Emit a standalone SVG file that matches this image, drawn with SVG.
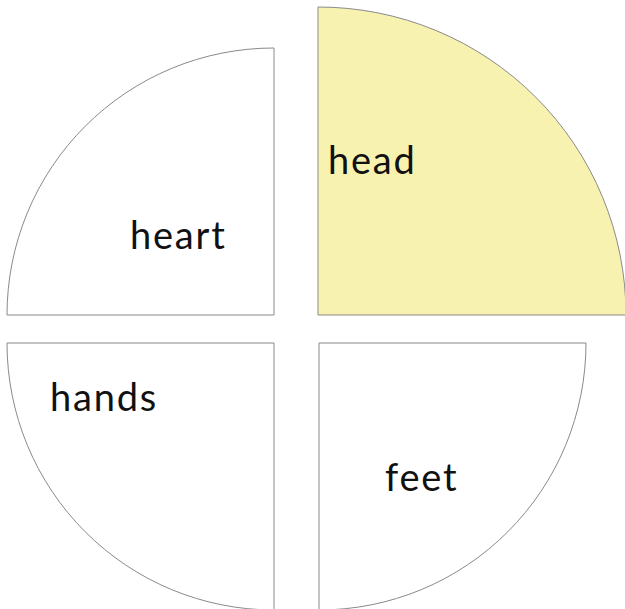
<svg xmlns="http://www.w3.org/2000/svg" width="625" height="609" viewBox="0 0 625 609">
<style>
.q{fill:#ffffff;stroke:#8a8a8a;stroke-width:1}
.hl{fill:#f8f2b0}
text{font-family:Lato,"Noto Sans",sans-serif;font-size:38px;font-weight:400;letter-spacing:1.8px;fill:#111}
</style>
<rect width="625" height="609" fill="#ffffff"/>
<g id="heart">
<path class="q" d="M274,315 L7,315 A267,267 0 0 1 274,48 Z"/>
<text x="130" y="249">heart</text>
</g>
<g id="head">
<path class="q hl" d="M318,315 L318,7 A308,308 0 0 1 626,315 Z"/>
<text x="328" y="174">head</text>
</g>
<g id="hands">
<path class="q" d="M274,343 L7,343 A267,267 0 0 0 274,610 Z"/>
<text x="50" y="411">hands</text>
</g>
<g id="feet">
<path class="q" d="M319,343 L586,343 A267,267 0 0 1 319,610 Z"/>
<text x="385" y="491">feet</text>
</g>
<g id="connectors"></g>
</svg>
